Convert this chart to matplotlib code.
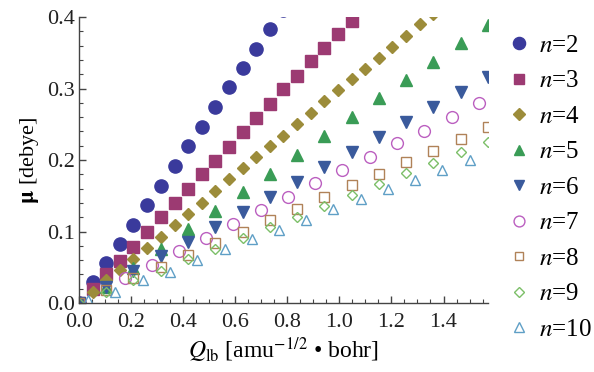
import numpy as np
import matplotlib
matplotlib.use("Agg")
import matplotlib.pyplot as plt
from matplotlib.ticker import MultipleLocator

plt.rcParams['font.family'] = ['Liberation Serif', 'DejaVu Serif']
plt.rcParams['mathtext.fontset'] = 'stix'

# x grids [bohr amu^-1/2]
x_fine = [0.0, 0.052, 0.105, 0.157, 0.209, 0.262, 0.314, 0.367, 0.419, 0.471,
          0.524, 0.576, 0.628, 0.681, 0.733, 0.785, 0.838, 0.890, 0.942, 0.995,
          1.047, 1.100, 1.152, 1.204, 1.257, 1.309, 1.361]
x_even = [0.0, 0.105, 0.209, 0.314, 0.419, 0.524, 0.628, 0.733, 0.838, 0.942,
          1.047, 1.152, 1.257, 1.361, 1.466, 1.571]
x_n7 = [0.175, 0.279, 0.384, 0.489, 0.593, 0.698, 0.803, 0.908, 1.012,
        1.117, 1.222, 1.326, 1.431, 1.536]
x_n10 = [0.035, 0.140, 0.244, 0.349, 0.454, 0.559, 0.663, 0.768, 0.873, 0.977,
         1.082, 1.187, 1.292, 1.396, 1.501]

# dipole moment [debye]
mu_n2 = [0, 0.029, 0.056, 0.082, 0.109, 0.137, 0.164, 0.191, 0.219, 0.246,
         0.274, 0.302, 0.329, 0.355, 0.383, 0.410]
mu_n3 = [0, 0.020, 0.040, 0.059, 0.078, 0.099, 0.120, 0.140, 0.159, 0.180,
         0.199, 0.218, 0.239, 0.259, 0.278, 0.299, 0.317, 0.338, 0.357, 0.376,
         0.395, 0.414]
mu_n4 = [0, 0.015, 0.032, 0.046, 0.061, 0.077, 0.092, 0.109, 0.125, 0.140,
         0.157, 0.173, 0.189, 0.204, 0.219, 0.234, 0.250, 0.266, 0.282, 0.298,
         0.313, 0.328, 0.343, 0.358, 0.374, 0.390, 0.405]
mu_n5 = [0, 0.022, 0.049, 0.076, 0.104, 0.129, 0.155, 0.181, 0.207, 0.234,
         0.260, 0.287, 0.312, 0.337, 0.364, 0.389]
mu_n6 = [0, 0.023, 0.045, 0.066, 0.086, 0.106, 0.127, 0.148, 0.169, 0.190,
         0.211, 0.232, 0.253, 0.274, 0.295, 0.316]
mu_n7 = [0.035, 0.053, 0.073, 0.091, 0.110, 0.130, 0.148, 0.168, 0.186,
         0.204, 0.224, 0.241, 0.260, 0.280]
mu_n8 = [0, 0.018, 0.035, 0.051, 0.067, 0.084, 0.100, 0.116, 0.131, 0.148,
         0.165, 0.180, 0.197, 0.213, 0.229, 0.246]
mu_n9 = [0, 0.016, 0.032, 0.045, 0.061, 0.076, 0.091, 0.106, 0.121, 0.136,
         0.151, 0.166, 0.182, 0.196, 0.211, 0.225]
mu_n10 = [0.004, 0.016, 0.032, 0.044, 0.060, 0.076, 0.090, 0.102, 0.116, 0.131,
          0.145, 0.159, 0.172, 0.186, 0.200]

labels = ['2', '3', '4', '5', '6', '7', '8', '9', '10']

fig = plt.figure(figsize=(5.94, 3.72), dpi=100)
ax = fig.add_axes([0.133, 0.1855, 0.6885, 0.7685])

series = [
    (x_fine, mu_n2, 'o', 9.5, '#3a3a9c', True),
    (x_fine, mu_n3, 's', 8.0, '#9c3a72', True),
    (x_fine, mu_n4, 'D', 6.5, '#9c8c3a', True),
    (x_even, mu_n5, '^', 8.5, '#3a9c56', True),
    (x_even, mu_n6, 'v', 8.5, '#3a5a9c', True),
    (x_n7, mu_n7, 'o', 8.5, '#bb5fc0', False),
    (x_even, mu_n8, 's', 7.0, '#b08258', False),
    (x_even, mu_n9, 'D', 5.0, '#7cbf68', False),
    (x_n10, mu_n10, '^', 7.2, '#5f9fc6', False),
]

for (xs, ys, m, ms, c, filled), lab in zip(series, labels):
    xs = xs[:len(ys)]
    name = r'$n$=' + lab
    if filled:
        ax.plot(xs, ys, ls='none', marker=m, ms=ms, color=c, mec=c,
                label=name, clip_on=True)
    else:
        ax.plot(xs, ys, ls='none', marker=m, ms=ms, mfc='none', mec=c,
                mew=1.0, label=name, clip_on=True)

ax.set_xlim(0, np.pi / 2)
ax.set_ylim(0, 0.4)
ax.xaxis.set_major_locator(MultipleLocator(0.2))
ax.xaxis.set_minor_locator(MultipleLocator(0.05))
ax.yaxis.set_major_locator(MultipleLocator(0.1))
ax.yaxis.set_minor_locator(MultipleLocator(0.02))
ax.xaxis.set_major_formatter(plt.FuncFormatter(lambda v, p: '%.1f' % v))
ax.yaxis.set_major_formatter(plt.FuncFormatter(lambda v, p: '%.1f' % v))
for s in ['top', 'right']:
    ax.spines[s].set_visible(False)
for s in ['left', 'bottom']:
    ax.spines[s].set_color('#444444')
    ax.spines[s].set_linewidth(1.0)
ax.tick_params(which='both', direction='in', color='#444444', labelsize=16,
               labelcolor='#222222')
ax.tick_params(which='major', length=5, width=1.0)
ax.tick_params(which='minor', length=3, width=0.8)
ax.tick_params(axis='x', which='major', pad=7)
ax.tick_params(axis='y', which='major', pad=3)

ax.set_xlabel(r'$Q_{\rm lb}$ [amu$^{-1/2}$ • bohr]', fontsize=17, labelpad=3)
ax.set_ylabel(r'$\mathbf{\mu}$ [debye]', fontsize=16, labelpad=4)

leg = ax.legend(loc='upper left', bbox_to_anchor=(1.02, 0.975), frameon=False,
                fontsize=18, handletextpad=0.3, labelspacing=0.52,
                handlelength=1.0, borderaxespad=0)
for h in leg.legend_handles:
    h.set_markersize(h.get_markersize() * 0.92)

fig.savefig('out.png', dpi=100)
